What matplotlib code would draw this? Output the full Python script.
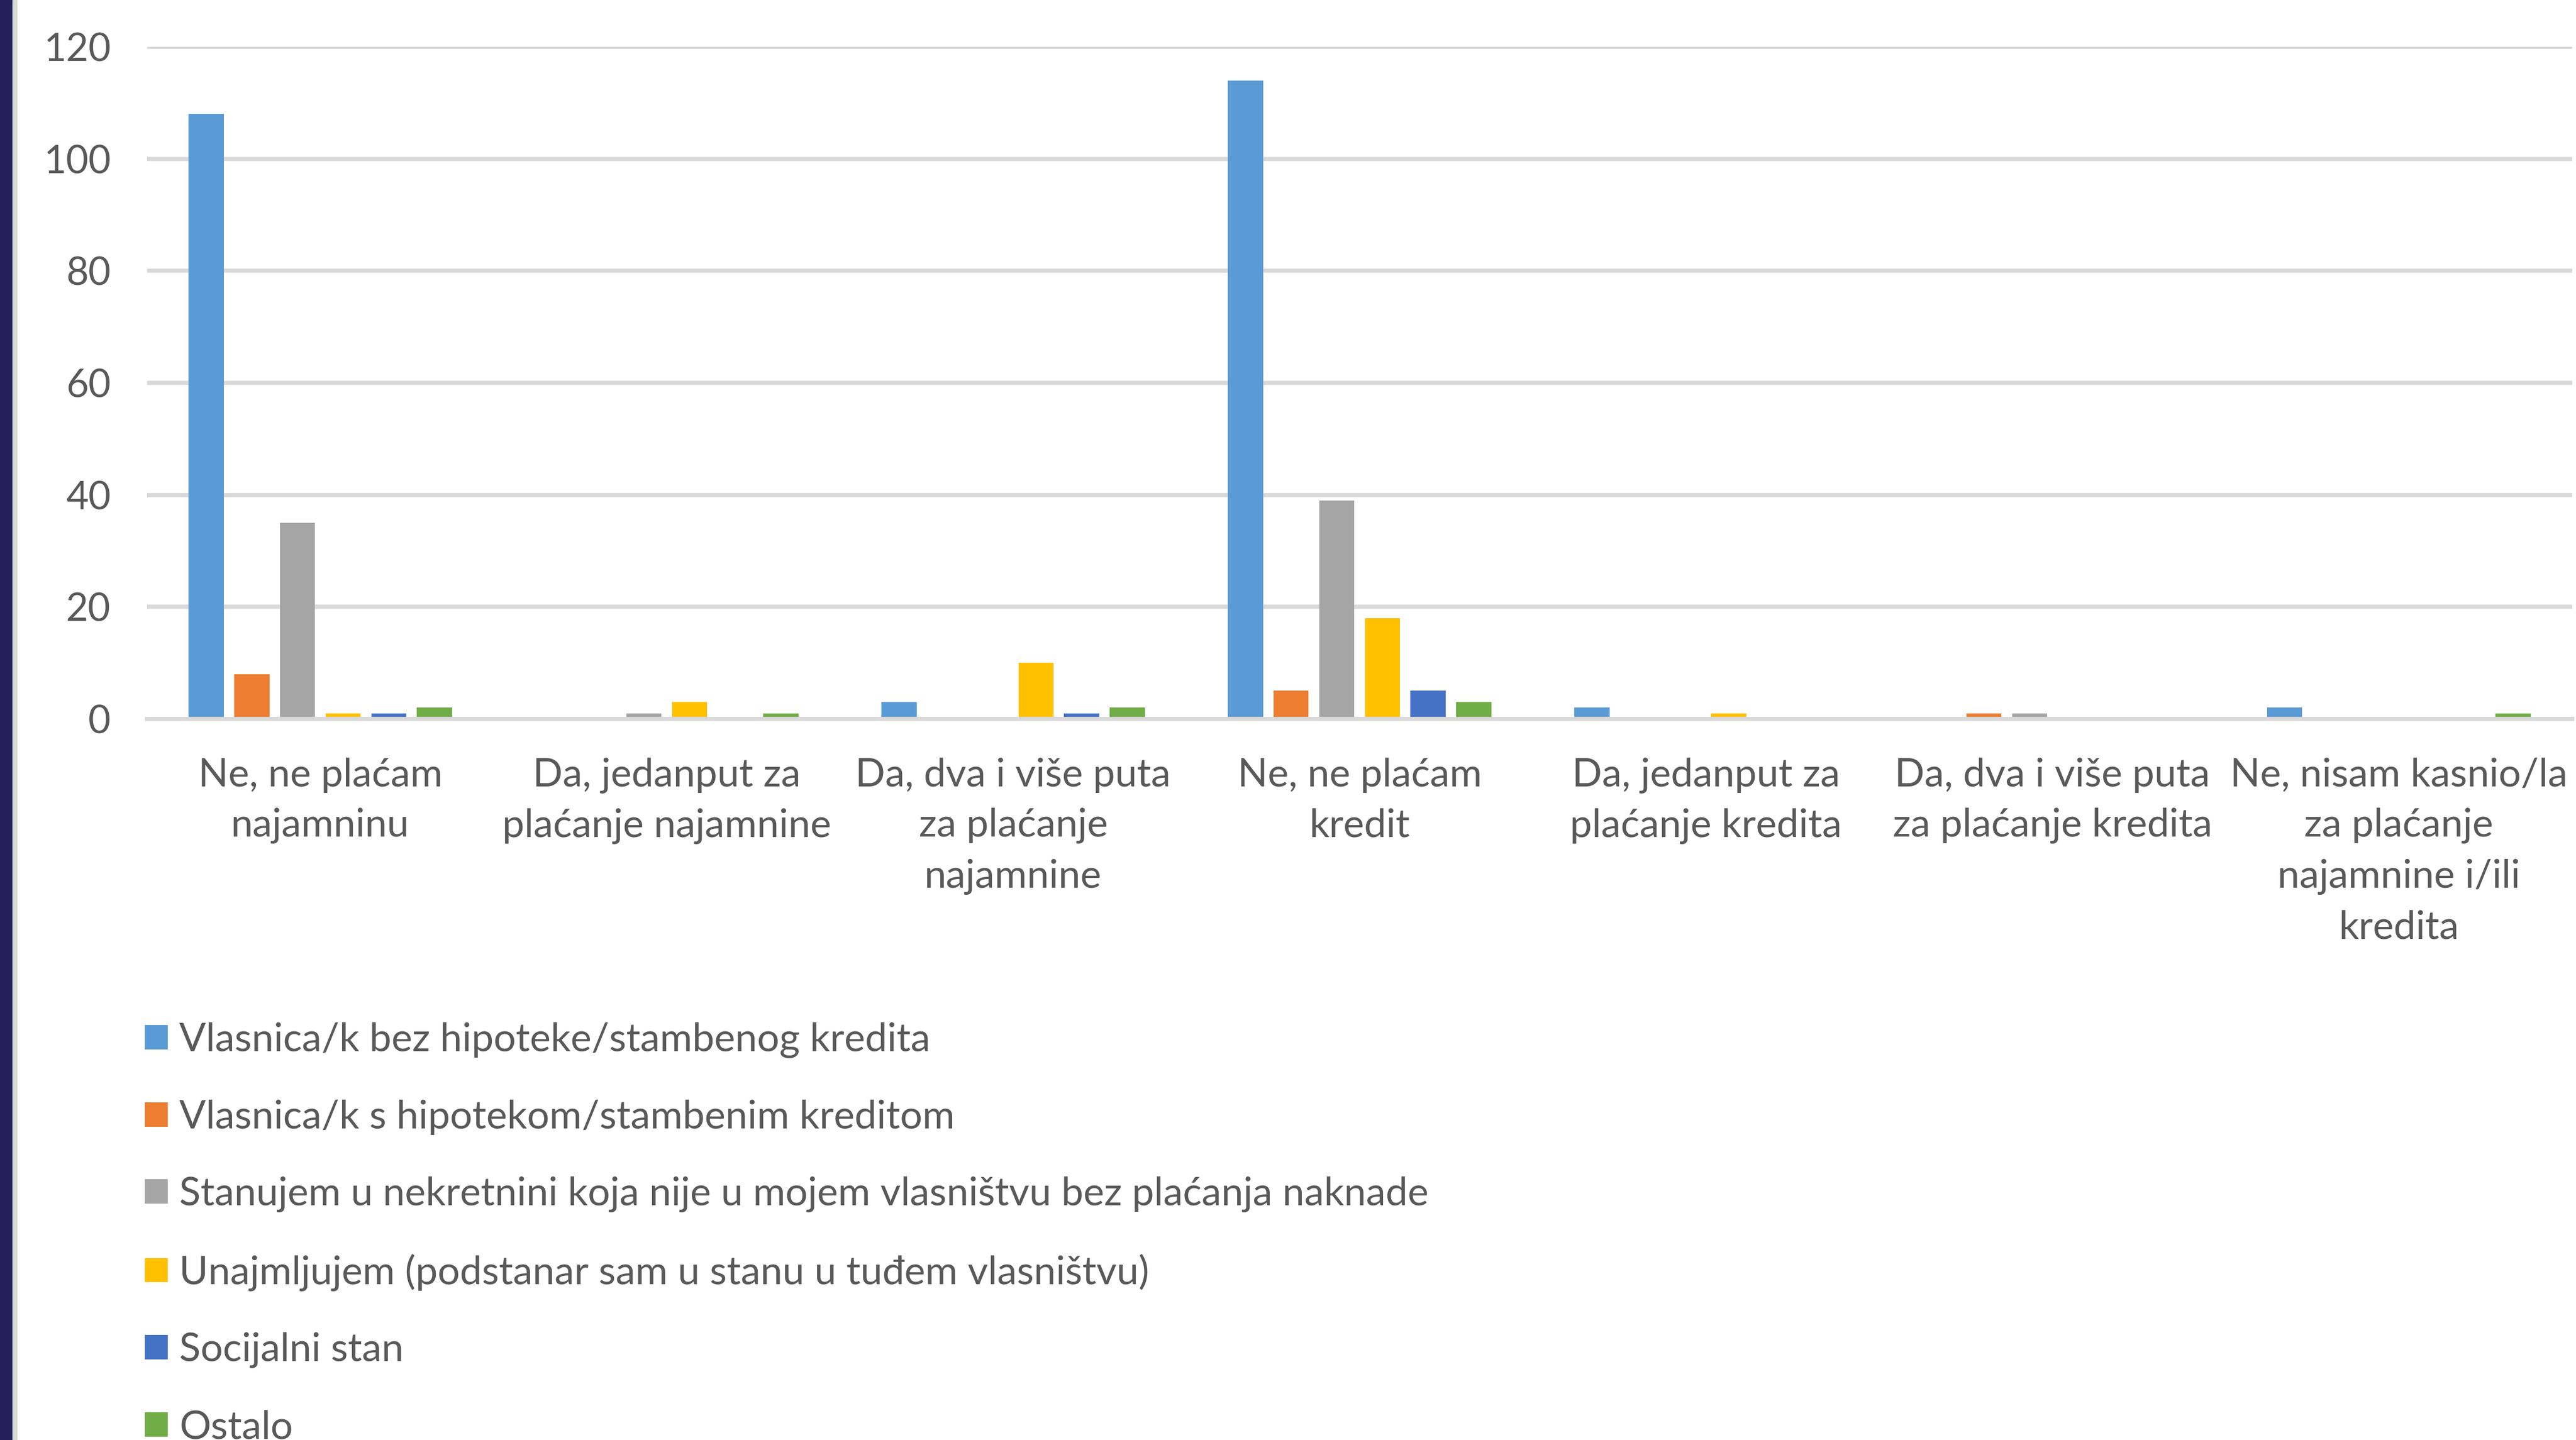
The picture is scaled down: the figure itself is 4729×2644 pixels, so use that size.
import matplotlib.pyplot as plt
import numpy as np
from matplotlib.patches import Rectangle

plt.rcParams['font.family'] = ['Lato', 'DejaVu Sans']

# kategorije odgovora (os x)
categories = [
    "Ne, ne plaćam\nnajamninu",
    "Da, jedanput za\nplaćanje najamnine",
    "Da, dva i više puta\nza plaćanje\nnajamnine",
    "Ne, ne plaćam\nkredit",
    "Da, jedanput za\nplaćanje kredita",
    "Da, dva i više puta\nza plaćanje kredita",
    "Ne, nisam kasnio/la\nza plaćanje\nnajamnine i/ili\nkredita",
]

# serije po statusu stanovanja
series_names = [
    "Vlasnica/k bez hipoteke/stambenog kredita",
    "Vlasnica/k s hipotekom/stambenim kreditom",
    "Stanujem u nekretnini koja nije u mojem vlasništvu bez plaćanja naknade",
    "Unajmljujem (podstanar sam u stanu u tuđem vlasništvu)",
    "Socijalni stan",
    "Ostalo",
]
vlasnik_bez = [108, 0, 3, 114, 2, 0, 2]
vlasnik_s = [8, 0, 0, 5, 0, 1, 0]
bez_naknade = [35, 1, 0, 39, 0, 1, 0]
unajmljujem = [1, 3, 10, 18, 1, 0, 0]
socijalni = [1, 0, 1, 5, 0, 0, 0]
ostalo = [2, 1, 2, 3, 0, 0, 1]

colors = ['#5B9BD5', '#ED7D31', '#A5A5A5', '#FFC000', '#4472C4', '#70AD47']
text_color = '#595959'
grid_color = '#D9D9D9'

fig = plt.figure(figsize=(47.29, 26.44), dpi=100)
ax = fig.add_axes([0.0571, 0.5008, 0.9414, 0.4667])

x = np.arange(len(categories))
step = 0.132
width = 0.102
all_series = [vlasnik_bez, vlasnik_s, bez_naknade, unajmljujem, socijalni, ostalo]
for k, (vals, name, c) in enumerate(zip(all_series, series_names, colors)):
    ax.bar(x + (k - 2.5) * step, vals, width, color=c, label=name, zorder=2)

ax.set_xlim(-0.5, len(categories) - 0.5)
ax.set_ylim(0, 120)
ax.set_yticks(range(0, 121, 20))
ax.yaxis.grid(True, color=grid_color, linewidth=5.5, zorder=0)
ax.set_axisbelow(True)
for s in ['top', 'right', 'left']:
    ax.spines[s].set_visible(False)
ax.spines['bottom'].set_color(grid_color)
ax.spines['bottom'].set_linewidth(5.5)
ax.spines['bottom'].set_zorder(3)

ax.set_xticks(x)
ax.set_xticklabels(categories, fontsize=52, color=text_color, linespacing=1.52)
ax.tick_params(axis='x', length=0, pad=51)
ax.tick_params(axis='y', length=0, pad=48, labelsize=51, labelcolor=text_color)

# legenda ispod grafikona
fig.legend(loc='upper left', bbox_to_anchor=(0.0562, 0.290), frameon=False,
           fontsize=52, labelcolor=text_color, handlelength=0.58, handleheight=0.58,
           handletextpad=0.3, labelspacing=1.05, borderaxespad=0, borderpad=0)

# tamna traka uz lijevi rub
fig.patches.append(Rectangle((0, 0), 23 / 4729, 1, transform=fig.transFigure,
                             color='#241F5A', zorder=5))
fig.patches.append(Rectangle((23 / 4729, 0), 8 / 4729, 1, transform=fig.transFigure,
                             color='#D9D9D9', zorder=5))

fig.savefig('out.png', dpi=100)
